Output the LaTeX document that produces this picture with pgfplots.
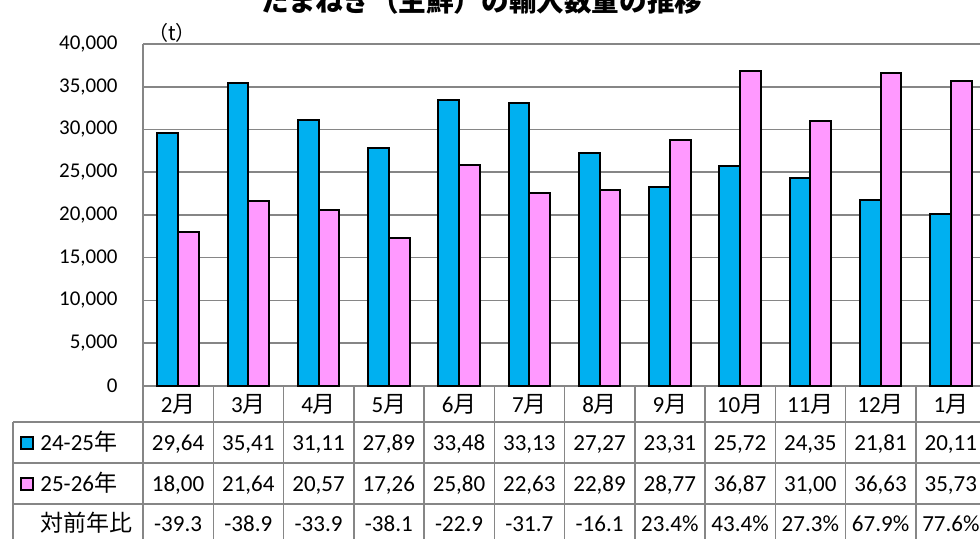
\documentclass[border=0pt]{standalone}
\usepackage{pgfplots}
\pgfplotsset{compat=1.18}
\usepackage{fontspec}
\setmainfont{Carlito}
\newfontfamily\jp{Noto Sans CJK JP}
\definecolor{barblue}{RGB}{0,176,240}
\definecolor{barpink}{RGB}{255,153,255}
\definecolor{gridgray}{RGB}{134,134,134}
\begin{document}
\begin{tikzpicture}[x=0.5pt,y=-0.5pt]
\useasboundingbox (0,0) rectangle (980,539);
\clip (0,0) rectangle (980,539);
\node[anchor=base, inner sep=0pt, font=\jp\bfseries\fontsize{13.8}{16}\selectfont] at (482,12) {たまねぎ（生鮮）の輸入数量の推移};
\node[inner sep=0pt, font=\jp\fontsize{10}{12}\selectfont] at (172,33) {（t）};
\begin{axis}[at={(71.5pt,-193pt)}, anchor=south west, scale only axis,
  width=421.5pt, height=171pt,
  xmin=-0.5, xmax=11.5, ymin=0, ymax=40000,
  axis x line=bottom, axis y line=left,
  axis line style={-, gridgray, line width=0.75pt},
  xtick=\empty, ytick={0,5000,...,40000},
  ymajorgrids, grid style={gridgray, line width=0.75pt},
  major tick length=0pt, scaled y ticks=false,
  /pgf/number format/1000 sep={,},
  /pgf/number format/assume math mode=true,
  yticklabel style={font=\fontsize{10.5}{12}\selectfont, inner sep=0pt, xshift=-12.5pt},
  ybar=0pt, bar width=10.35pt, clip=false]
\addplot[fill=barblue, draw=black, line width=1pt] coordinates {
 (0,29640) (1,35410) (2,31110) (3,27890) (4,33480) (5,33130)
 (6,27270) (7,23310) (8,25720) (9,24350) (10,21810) (11,20110)};
\addplot[fill=barpink, draw=black, line width=1pt] coordinates {
 (0,18000) (1,21640) (2,20570) (3,17260) (4,25800) (5,22630)
 (6,22890) (7,28770) (8,36870) (9,31000) (10,36630) (11,35730)};
\end{axis}
% table grid
\begin{scope}[gridgray, line width=0.75pt]
\foreach \i in {0,...,12} \draw (143+70.25*\i,386) -- (143+70.25*\i,545);
\draw (13,422) -- (1000,422);
\draw (13,463) -- (1000,463);
\draw (13,504) -- (1000,504);
\draw (13,422) -- (13,545);
\end{scope}
\begin{scope}[every node/.style={inner sep=0pt, anchor=base, font=\fontsize{11.5}{13}\selectfont}]
\foreach \t [count=\i from 0] in {2,3,4,5,6,7,8,9,10,11,12,1}
  \node at (178.1+70.25*\i,413) {\t\jp 月};
\foreach \t [count=\i from 0] in {{29,64},{35,41},{31,11},{27,89},{33,48},{33,13},{27,27},{23,31},{25,72},{24,35},{21,81},{20,11}}
  \node at (178.1+70.25*\i,450.5) {\t};
\foreach \t [count=\i from 0] in {{18,00},{21,64},{20,57},{17,26},{25,80},{22,63},{22,89},{28,77},{36,87},{31,00},{36,63},{35,73}}
  \node at (178.1+70.25*\i,491.5) {\t};
\foreach \t [count=\i from 0] in {-39.3,-38.9,-33.9,-38.1,-22.9,-31.7,-16.1,23.4\%,43.4\%,27.3\%,67.9\%,77.6\%}
  \node at (178.1+70.25*\i,531.5) {\t};
\node[anchor=base west] at (40,450.5) {24-25\jp 年};
\node[anchor=base west] at (40,491.5) {25-26\jp 年};
\node[anchor=base east] at (133,531.5) {\jp 対前年比};
\end{scope}
\draw[fill=barblue, line width=0.9pt] (21,437) rectangle (33,449);
\draw[fill=barpink, line width=0.9pt] (21,478) rectangle (33,490);
\end{tikzpicture}
\end{document}
